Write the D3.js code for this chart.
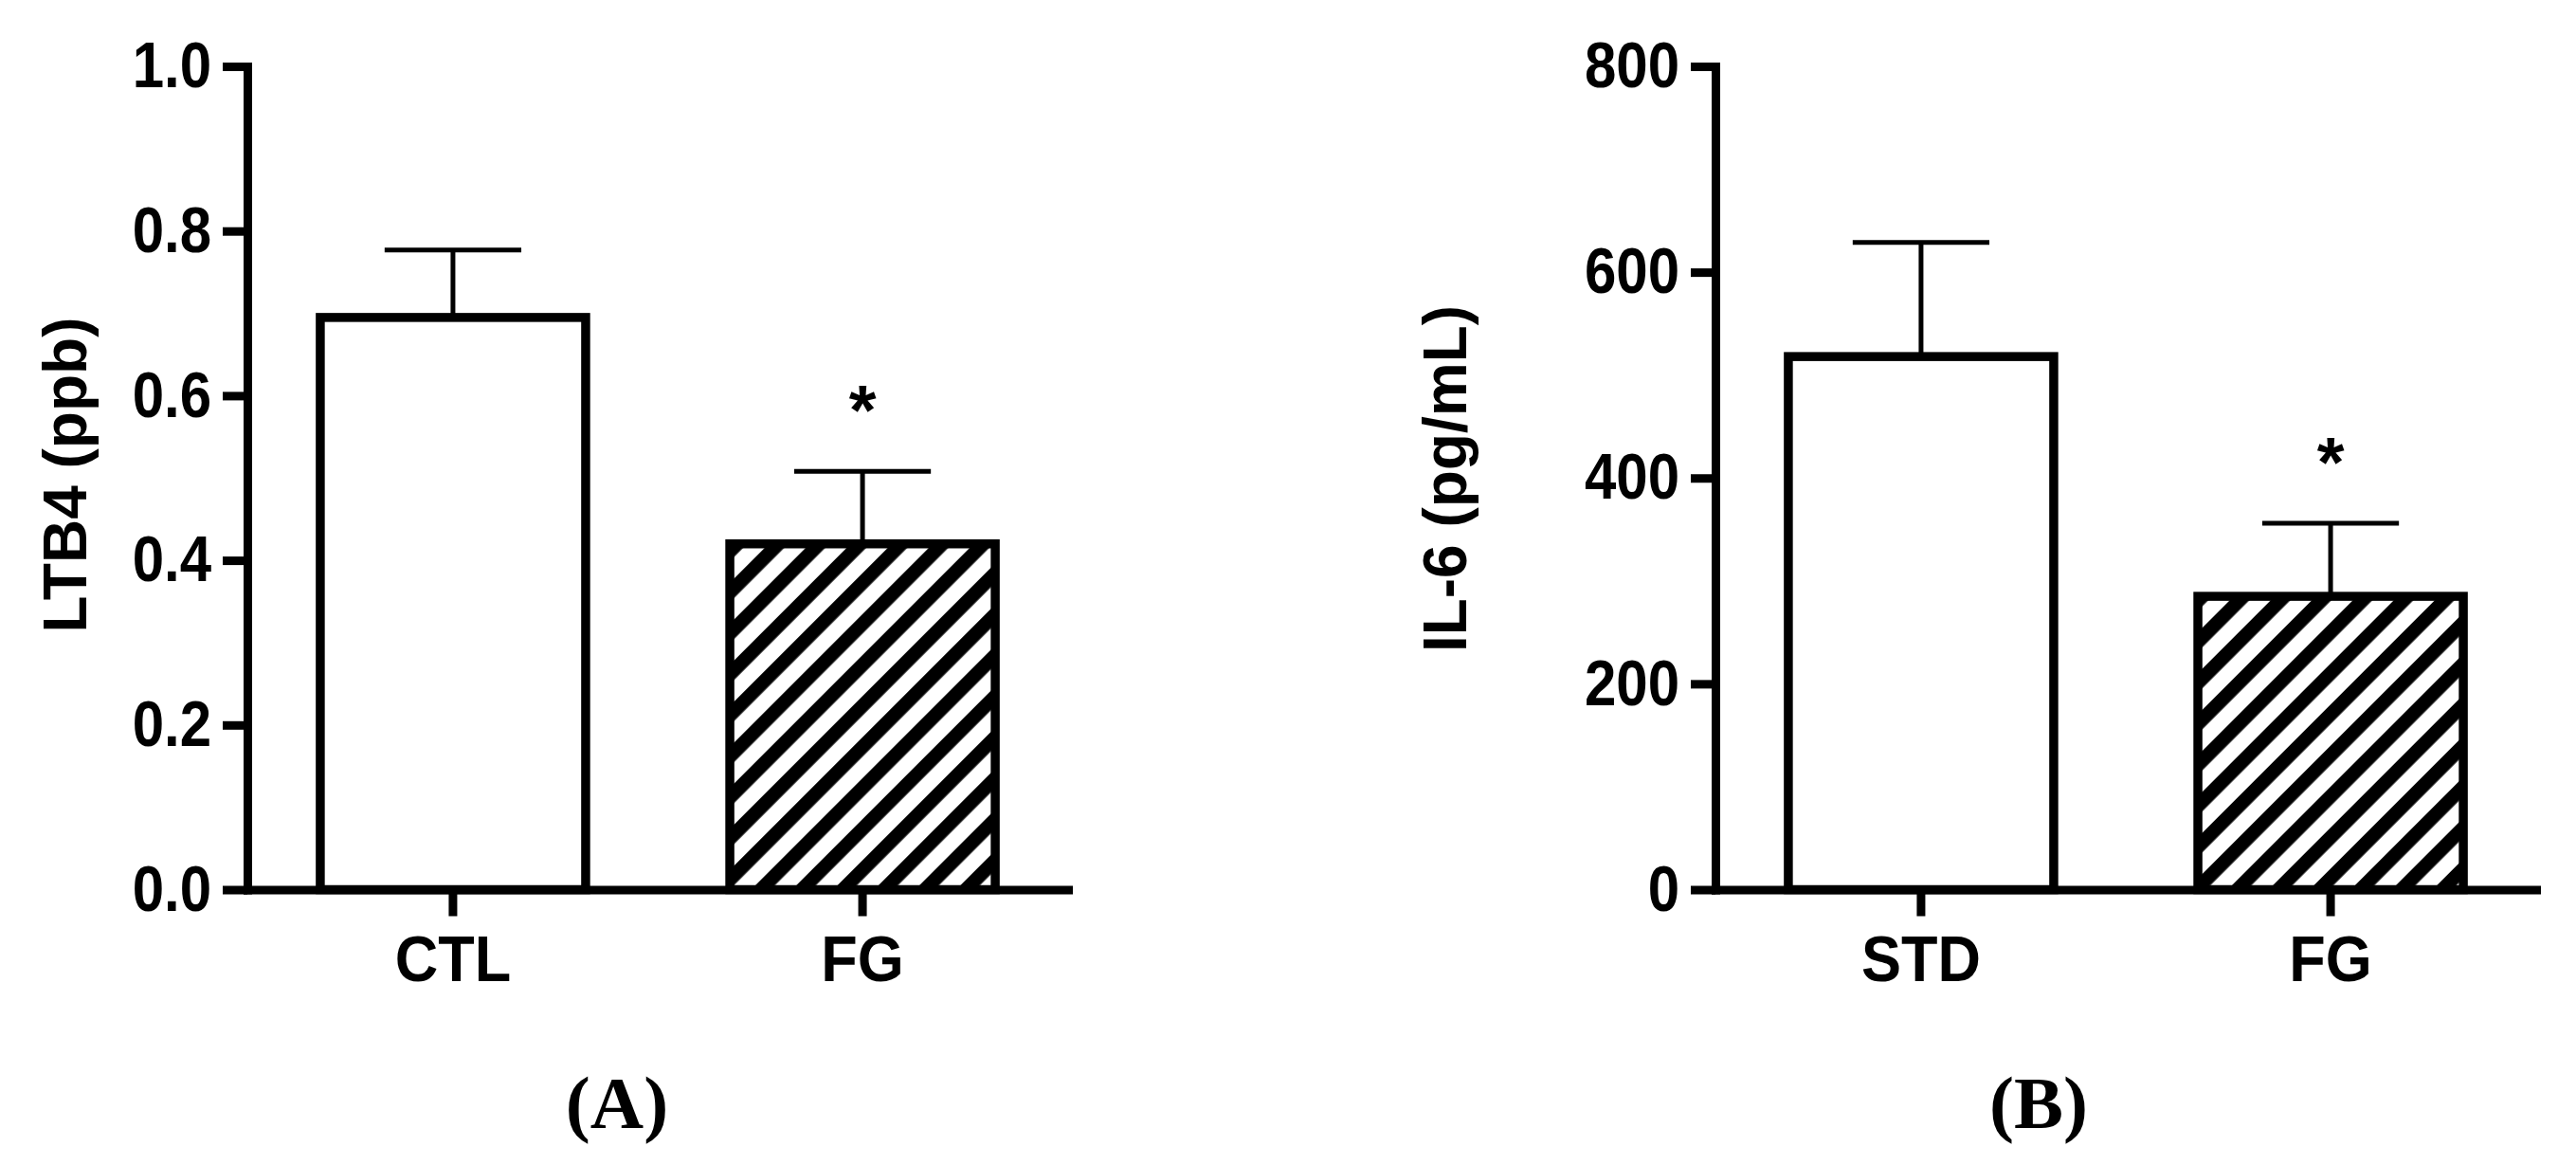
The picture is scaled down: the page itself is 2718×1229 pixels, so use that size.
<!DOCTYPE html>
<html lang="en">
<head>
  <meta charset="utf-8">
  <script src="https://cdn.jsdelivr.net/npm/d3@7"></script>
  <style>
    body {
      margin: 0;
      background: #fff;
    }
    svg {
      display: block;
      font-family: "Liberation Sans", Arial, sans-serif;
      font-weight: bold;
    }
    .axis path, .axis line {
      stroke: #000;
      stroke-width: 9;
    }
    .axis path {
      stroke-linecap: square;
    }
    .axis text {
      fill: #000;
      font-family: "Liberation Sans", Arial, sans-serif;
      font-weight: bold;
    }
    .bar {
      stroke: #000;
      stroke-width: 9.5;
    }
    .err {
      stroke: #000;
      stroke-width: 5;
      fill: none;
    }
    .panel-tag {
      font-family: "Liberation Serif", "Times New Roman", serif;
      font-weight: bold;
      font-size: 78px;
    }
  </style>
</head>
<body>
  <svg id="chart" width="2718" height="1229"></svg>
  <script>
    // panel A
    var groupsA = ["CTL", "FG"];
    var meansA = [0.695, 0.42];
    var errA = [0.082, 0.088];
    var sigA = ["", "*"];
    var ticksA = [0, 0.2, 0.4, 0.6, 0.8, 1.0];

    // panel B
    var groupsB = ["STD", "FG"];
    var meansB = [518, 285];
    var errB = [111, 71];
    var sigB = ["", "*"];
    var ticksB = [0, 200, 400, 600, 800];

    var fills = ["#fff", "url(#hatch)"];

    var svg = d3.select("#chart");

    // diagonal hatch for the second bar
    var pat = svg.append("defs").append("pattern")
      .attr("id", "hatch")
      .attr("patternUnits", "userSpaceOnUse")
      .attr("width", 30.6)
      .attr("height", 30.6)
      .attr("patternTransform", "rotate(45)");
    pat.append("rect").attr("width", 30.6).attr("height", 30.6).attr("fill", "#fff");
    pat.append("rect").attr("width", 14.5).attr("height", 30.6).attr("fill", "#000");

    function drawPanel(p) {
      var g = svg.append("g");

      var x = d3.scaleBand()
        .domain(p.groups)
        .range([p.left, p.left + 866])
        .paddingInner(0.352)
        .paddingOuter(0.178);

      var y = d3.scaleLinear()
        .domain([0, p.ticks[p.ticks.length - 1]])
        .range([938.5, 70]);

      var rows = p.groups.map(function(d, i) {
        return { name: d, mean: p.means[i], err: p.errs[i], sig: p.sig[i], fill: fills[i] };
      });

      g.selectAll("rect.bar")
        .data(rows)
        .enter().append("rect")
          .attr("class", "bar")
          .attr("x", function(d) { return x(d.name); })
          .attr("y", function(d) { return y(d.mean); })
          .attr("width", x.bandwidth())
          .attr("height", function(d) { return y(0) - y(d.mean); })
          .attr("fill", function(d) { return d.fill; });

      var cx = function(d) { return x(d.name) + x.bandwidth() / 2; };
      var capW = x.bandwidth() * 0.515;

      g.selectAll("path.err")
        .data(rows)
        .enter().append("path")
          .attr("class", "err")
          .attr("d", function(d) {
            var top = y(d.mean + d.err);
            return "M" + cx(d) + "," + y(d.mean) + "V" + top +
                   "M" + (cx(d) - capW / 2) + "," + top + "H" + (cx(d) + capW / 2);
          });

      g.selectAll("text.sig")
        .data(rows)
        .enter().append("text")
          .attr("class", "sig")
          .attr("x", cx)
          .attr("y", function(d) { return y(d.mean + d.err) - 39; })
          .attr("text-anchor", "middle")
          .style("font-size", "74px")
          .text(function(d) { return d.sig; });

      // the tick labels in the original are a bit taller than wide
      var yAxis = g.append("g")
        .attr("class", "axis")
        .attr("transform", "translate(" + p.left + ",0)")
        .call(d3.axisLeft(y)
          .tickValues(p.ticks)
          .tickFormat(p.fmt)
          .tickSize(26)
          .tickSizeOuter(0)
          .tickPadding(12));
      yAxis.selectAll("text")
        .style("font-size", "60px")
        .attr("transform", "scale(1,1.13)");

      var xAxis = g.append("g")
        .attr("class", "axis")
        .attr("transform", "translate(0,938.5)")
        .call(d3.axisBottom(x)
          .tickSize(28)
          .tickSizeOuter(0)
          .tickPadding(17));
      xAxis.selectAll("text")
        .style("font-size", "63px")
        .attr("transform", "scale(1,1.08)");

      g.append("text")
        .attr("transform", "translate(" + p.labelX + "," + p.labelY + ")rotate(-90)")
        .attr("text-anchor", "middle")
        .style("font-size", "64px")
        .text(p.label);

      g.append("text")
        .attr("class", "panel-tag")
        .attr("x", p.tagX)
        .attr("y", 1190)
        .attr("text-anchor", "middle")
        .text(p.tag);
    }

    drawPanel({
      left: 261, groups: groupsA, means: meansA, errs: errA, sig: sigA,
      ticks: ticksA, fmt: d3.format(".1f"),
      label: "LTB4 (ppb)", labelX: 91, labelY: 501,
      tag: "(A)", tagX: 651
    });

    drawPanel({
      left: 1810, groups: groupsB, means: meansB, errs: errB, sig: sigB,
      ticks: ticksB, fmt: d3.format("d"),
      label: "IL-6 (pg/mL)", labelX: 1547, labelY: 505,
      tag: "(B)", tagX: 2151
    });
  </script>
</body>
</html>
